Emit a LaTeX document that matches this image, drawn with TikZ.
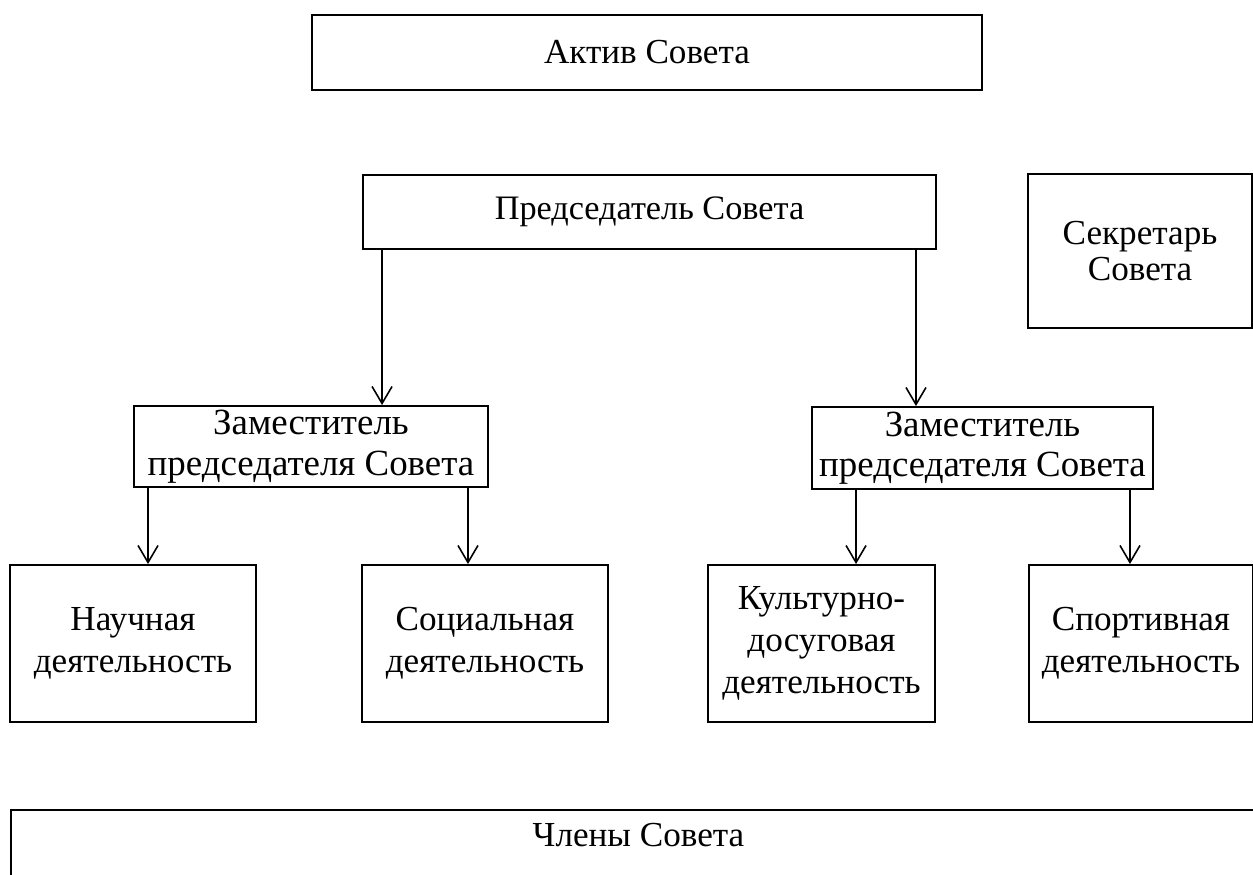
\documentclass[tikz,border=0pt]{standalone}
\usepackage{fontspec}
\setmainfont{Liberation Serif}
\usetikzlibrary{positioning,arrows.meta}

\begin{document}
\begin{tikzpicture}
[box/.style={draw, line width=1.1pt, inner sep=0pt, align=center, font=\fontsize{20}{24}\selectfont},
arr/.style={line width=0.9pt, -{Straight Barb[length=3.4mm,width=4mm]}}]

\useasboundingbox (0,0) rectangle (25.06,-17.5);

\node[box, minimum width=13.4cm, minimum height=1.5cm] (aktiv) at(12.94,-1.05) {Актив Совета};
\node[box, minimum width=11.46cm, minimum height=1.48cm, font=\fontsize{19.5}{24}\selectfont] (chair) at(12.99,-4.24) {Председатель Совета};
\node[box, minimum width=4.48cm, minimum height=3.08cm, font=\fontsize{20}{20}\selectfont] (secr) at(22.8,-5.02) {Секретарь\\Совета};

\node[box, minimum width=7.08cm, minimum height=1.62cm, font=\fontsize{21}{23}\selectfont] (dep1) at(6.22,-8.93) {Заместитель\\председателя Совета};
\node[box, minimum width=6.82cm, minimum height=1.64cm, font=\fontsize{21}{23}\selectfont] (dep2) at(19.65,-8.96) {Заместитель\\председателя Совета};

\node[box, minimum width=4.92cm, minimum height=3.14cm] (sci) at(2.66,-12.87) {Научная\\деятельность};
\node[box, minimum width=4.92cm, minimum height=3.14cm] (soc) at(9.7,-12.87) {Социальная\\деятельность};
\node[box, minimum width=4.54cm, minimum height=3.14cm] (cult) at(16.43,-12.87) {Культурно-\\досуговая\\деятельность};
\node[box, minimum width=4.48cm, minimum height=3.14cm] (sport) at(22.82,-12.87) {Спортивная\\деятельность};

%\node[box] (members) at(12.7,-16.7) {Члены Совета};
\node[box, minimum width=25.1cm, text height=0.74cm, text depth=0.78cm, anchor=north west] (members) at(0.2,-16.18) {Члены Совета};

\draw[arr] ([xshift=0.4cm]chair.south west) -- ([xshift=0.4cm]chair.south west |- dep1.north);
\draw[arr] ([xshift=-0.42cm]chair.south east) -- ([xshift=-0.42cm]chair.south east |- dep2.north);

\draw[arr] ([xshift=0.3cm]dep1.south west) -- ([xshift=0.3cm]dep1.south west |- sci.north);
\draw[arr] ([xshift=-0.42cm]dep1.south east) -- ([xshift=-0.42cm]dep1.south east |- soc.north);
\draw[arr] ([xshift=0.9cm]dep2.south west) -- ([xshift=0.9cm]dep2.south west |- cult.north);
\draw[arr] ([xshift=-0.48cm]dep2.south east) -- ([xshift=-0.48cm]dep2.south east |- sport.north);
\end{tikzpicture}
\end{document}
